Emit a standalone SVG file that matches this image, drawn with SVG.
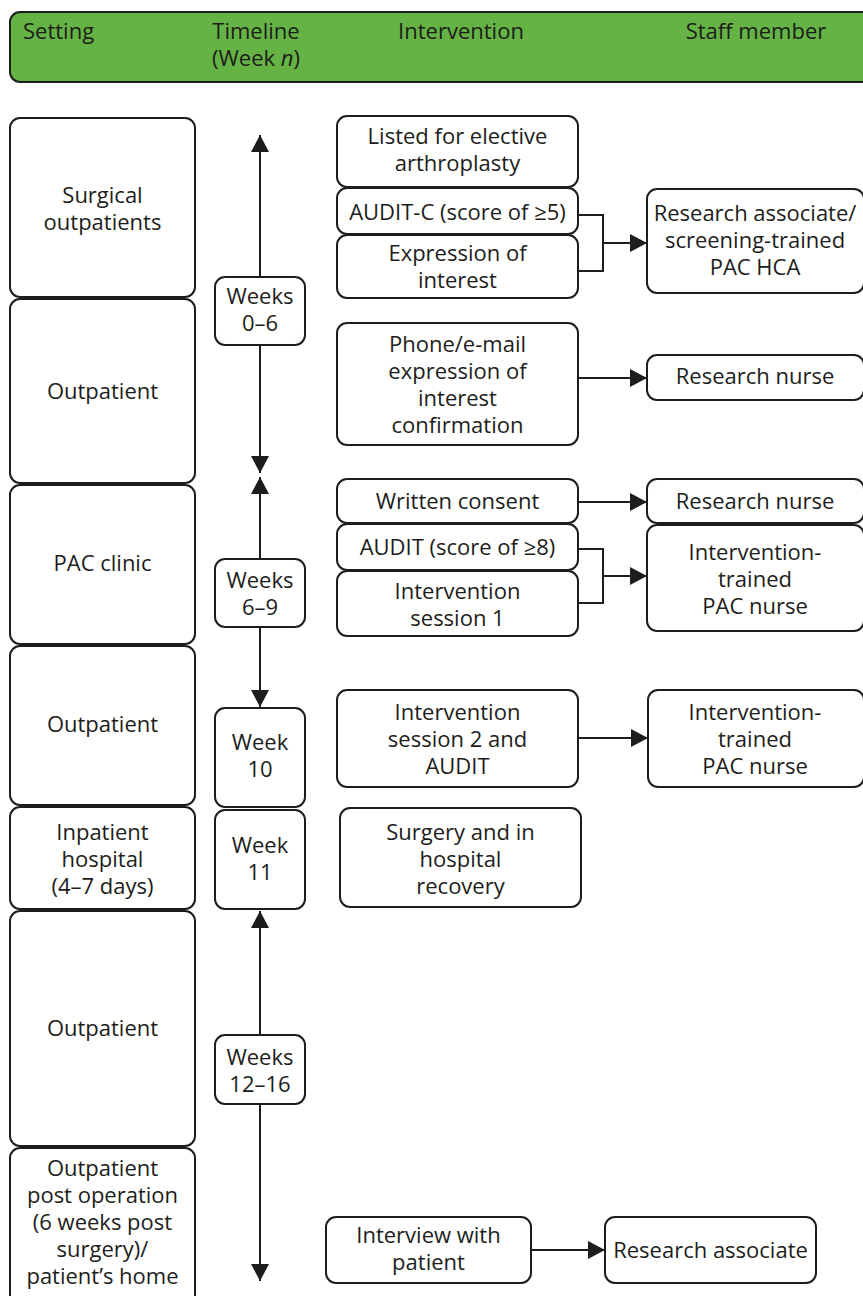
<svg xmlns="http://www.w3.org/2000/svg" width="863" height="1296" viewBox="0 0 863 1296">
<defs>
<style>
.box{fill:#fff;stroke:#1d1d1b;stroke-width:2}
.hdr{fill:#65b345;stroke:#1d1d1b;stroke-width:2}
text{font-family:"Open Sans","Noto Sans","Liberation Sans",sans-serif;font-size:22px;fill:#1d1d1b}
.c{text-anchor:middle}
.ln{fill:none;stroke:#1d1d1b;stroke-width:2}
</style>
<marker id="ah" viewBox="0 0 17 18" refX="17" refY="9" markerWidth="17" markerHeight="18" markerUnits="userSpaceOnUse" orient="auto"><path d="M0,0 L17,9 L0,18 z" fill="#1d1d1b"/></marker>
</defs>

<g id="header">
<rect class="hdr" x="10" y="12" width="870" height="70" rx="10"/>
<text x="23" y="39">Setting</text>
<text class="c" x="256" y="39">Timeline<tspan x="256" dy="27">(Week <tspan font-style="italic">n</tspan>)</tspan></text>
<text class="c" x="461" y="39">Intervention</text>
<text class="c" x="756" y="39">Staff member</text>
</g>

<g id="connectors">
<line class="ln" x1="260" y1="277" x2="260" y2="135" marker-end="url(#ah)"/>
<line class="ln" x1="260" y1="345" x2="260" y2="473" marker-end="url(#ah)"/>
<line class="ln" x1="260" y1="559" x2="260" y2="477" marker-end="url(#ah)"/>
<line class="ln" x1="260" y1="627" x2="260" y2="707" marker-end="url(#ah)"/>
<line class="ln" x1="260" y1="1035" x2="260" y2="911" marker-end="url(#ah)"/>
<line class="ln" x1="260" y1="1104" x2="260" y2="1281" marker-end="url(#ah)"/>
<path class="ln" d="M578,215 H603 V271 H578"/>
<line class="ln" x1="603" y1="243" x2="647" y2="243" marker-end="url(#ah)"/>
<line class="ln" x1="578" y1="378" x2="647" y2="378" marker-end="url(#ah)"/>
<line class="ln" x1="578" y1="502" x2="647" y2="502" marker-end="url(#ah)"/>
<path class="ln" d="M578,549 H603 V603 H578"/>
<line class="ln" x1="603" y1="576" x2="647" y2="576" marker-end="url(#ah)"/>
<line class="ln" x1="578" y1="738" x2="648" y2="738" marker-end="url(#ah)"/>
<line class="ln" x1="531" y1="1250" x2="605" y2="1250" marker-end="url(#ah)"/>
</g>

<g id="setting-surgical-outpatients">
<rect class="box" x="10" y="118" width="185" height="179" rx="10"/>
<text class="c" x="102.5" y="203">Surgical<tspan x="102.5" dy="27">outpatients</tspan></text>
</g>
<g id="setting-outpatient-1">
<rect class="box" x="10" y="299" width="185" height="184" rx="10"/>
<text class="c" x="102.5" y="399">Outpatient</text>
</g>
<g id="setting-pac-clinic">
<rect class="box" x="10" y="485" width="185" height="159" rx="10"/>
<text class="c" x="102.5" y="571">PAC clinic</text>
</g>
<g id="setting-outpatient-2">
<rect class="box" x="10" y="646" width="185" height="159" rx="10"/>
<text class="c" x="102.5" y="732">Outpatient</text>
</g>
<g id="setting-inpatient">
<rect class="box" x="10" y="807" width="185" height="102" rx="10"/>
<text class="c" x="102.5" y="840">Inpatient<tspan x="102.5" dy="27">hospital</tspan><tspan x="102.5" dy="27">(4–7 days)</tspan></text>
</g>
<g id="setting-outpatient-3">
<rect class="box" x="10" y="911" width="185" height="235" rx="10"/>
<text class="c" x="102.5" y="1036">Outpatient</text>
</g>
<g id="setting-post-operation">
<rect class="box" x="10" y="1148" width="185" height="160" rx="10"/>
<text class="c" x="102.5" y="1176">Outpatient<tspan x="102.5" dy="27">post operation</tspan><tspan x="102.5" dy="27">(6 weeks post</tspan><tspan x="102.5" dy="27">surgery)/</tspan><tspan x="102.5" dy="27">patient’s home</tspan></text>
</g>

<g id="time-weeks-0-6">
<rect class="box" x="215" y="277" width="90" height="68" rx="10"/>
<text class="c" x="260" y="304">Weeks<tspan x="260" dy="27">0–6</tspan></text>
</g>
<g id="time-weeks-6-9">
<rect class="box" x="215" y="559" width="90" height="68" rx="10"/>
<text class="c" x="260" y="588">Weeks<tspan x="260" dy="27">6–9</tspan></text>
</g>
<g id="time-week-10">
<rect class="box" x="215" y="708" width="90" height="99" rx="10"/>
<text class="c" x="260" y="750">Week<tspan x="260" dy="27">10</tspan></text>
</g>
<g id="time-week-11">
<rect class="box" x="215" y="810" width="90" height="99" rx="10"/>
<text class="c" x="260" y="853">Week<tspan x="260" dy="27">11</tspan></text>
</g>
<g id="time-weeks-12-16">
<rect class="box" x="215" y="1035" width="90" height="69" rx="10"/>
<text class="c" x="260" y="1065">Weeks<tspan x="260" dy="27">12–16</tspan></text>
</g>

<g id="int-listed">
<rect class="box" x="337" y="116" width="241" height="71" rx="10"/>
<text class="c" x="457.5" y="144">Listed for elective<tspan x="457.5" dy="27">arthroplasty</tspan></text>
</g>
<g id="int-audit-c">
<rect class="box" x="337" y="188" width="241" height="46" rx="10"/>
<text class="c" x="457.5" y="220">AUDIT-C (score of ≥5)</text>
</g>
<g id="int-expression">
<rect class="box" x="337" y="235" width="241" height="63" rx="10"/>
<text class="c" x="457.5" y="261">Expression of<tspan x="457.5" dy="27">interest</tspan></text>
</g>
<g id="int-phone">
<rect class="box" x="337" y="323" width="241" height="122" rx="10"/>
<text class="c" x="457.5" y="352">Phone/e-mail<tspan x="457.5" dy="27">expression of</tspan><tspan x="457.5" dy="27">interest</tspan><tspan x="457.5" dy="27">confirmation</tspan></text>
</g>
<g id="int-written-consent">
<rect class="box" x="337" y="479" width="241" height="44" rx="10"/>
<text class="c" x="457.5" y="509">Written consent</text>
</g>
<g id="int-audit">
<rect class="box" x="337" y="524" width="241" height="46" rx="10"/>
<text class="c" x="457.5" y="555">AUDIT (score of ≥8)</text>
</g>
<g id="int-session-1">
<rect class="box" x="337" y="571" width="241" height="65" rx="10"/>
<text class="c" x="457.5" y="599">Intervention<tspan x="457.5" dy="27">session 1</tspan></text>
</g>
<g id="int-session-2">
<rect class="box" x="337" y="690" width="241" height="97" rx="10"/>
<text class="c" x="457.5" y="720">Intervention<tspan x="457.5" dy="27">session 2 and</tspan><tspan x="457.5" dy="27">AUDIT</tspan></text>
</g>
<g id="int-surgery">
<rect class="box" x="340" y="808" width="241" height="99" rx="10"/>
<text class="c" x="460.5" y="840">Surgery and in<tspan x="460.5" dy="27">hospital</tspan><tspan x="460.5" dy="27">recovery</tspan></text>
</g>
<g id="int-interview">
<rect class="box" x="326" y="1217" width="205" height="66" rx="10"/>
<text class="c" x="428.5" y="1243">Interview with<tspan x="428.5" dy="27">patient</tspan></text>
</g>

<g id="staff-research-associate-hca">
<rect class="box" x="647" y="189" width="217" height="104" rx="10"/>
<text class="c" x="755" y="221">Research associate/<tspan x="755" dy="27">screening-trained</tspan><tspan x="755" dy="27">PAC HCA</tspan></text>
</g>
<g id="staff-research-nurse-1">
<rect class="box" x="647" y="355" width="217" height="45" rx="10"/>
<text class="c" x="755" y="384">Research nurse</text>
</g>
<g id="staff-research-nurse-2">
<rect class="box" x="647" y="479" width="217" height="44" rx="10"/>
<text class="c" x="755" y="509">Research nurse</text>
</g>
<g id="staff-pac-nurse-1">
<rect class="box" x="647" y="525" width="217" height="106" rx="10"/>
<text class="c" x="755" y="560">Intervention-<tspan x="755" dy="27">trained</tspan><tspan x="755" dy="27">PAC nurse</tspan></text>
</g>
<g id="staff-pac-nurse-2">
<rect class="box" x="648" y="690" width="216" height="97" rx="10"/>
<text class="c" x="755" y="720">Intervention-<tspan x="755" dy="27">trained</tspan><tspan x="755" dy="27">PAC nurse</tspan></text>
</g>
<g id="staff-research-associate">
<rect class="box" x="605" y="1217" width="211" height="66" rx="10"/>
<text class="c" x="710.5" y="1258">Research associate</text>
</g>
</svg>
